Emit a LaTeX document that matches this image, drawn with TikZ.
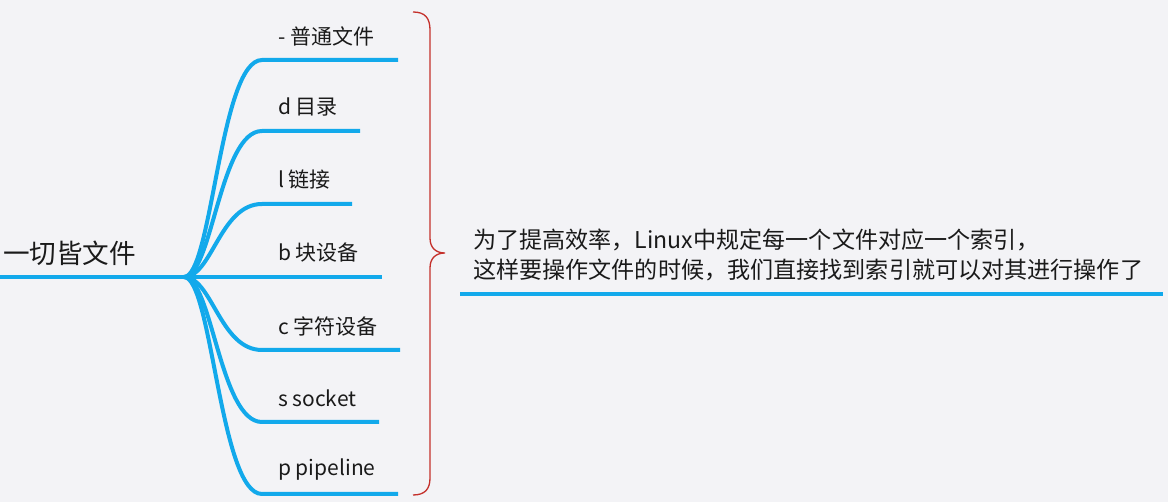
\documentclass[tikz,border=0pt]{standalone}
\usepackage{fontspec}
\setmainfont{Noto Sans CJK SC}

\begin{document}
\begin{tikzpicture}[x=1pt, y=-1pt]

  % --- Farben ---
  \definecolor{hgrund}{HTML}{F3F3F6} % Hintergrund
  \definecolor{astblau}{HTML}{12A9EB} % Blau  – Äste
  \definecolor{klammerrot}{HTML}{C4302B} % Rot – Klammer
  \definecolor{schrift}{HTML}{1A1A1A} % Text

  % --- Stile ---
  \tikzset{
    ast/.style={draw=astblau, line width=4pt, line cap=butt},
    blatt/.style={text=schrift, inner sep=0pt, anchor=west, font=\fontsize{21}{25}\selectfont},
  }

  % --- Hintergrund ---
  \fill[hgrund] (0,0) rectangle (1168,502);
  \useasboundingbox (0,0) rectangle (1168,502);

  % --- Wurzel ---
  \coordinate (links) at (0,277);
  \coordinate (hub) at (184,277);
  \node[blatt, font=\fontsize{26.6}{30}\selectfont] (wurzel) at (3,253) {一切皆文件};
  \draw[ast] (links) -- (hub);

  % --- Hilfsmakro: \zweig{Name}{y}{Ende x}{Text} ---
  \newcommand{\zweig}[4]{%
    \coordinate (#1-a) at (262,#2);
    \coordinate (#1-b) at (#3,#2);
    \draw[ast] (hub) .. controls (212,277) and (220,#2) .. (#1-a) -- (#1-b);
    \node[blatt] (#1) at (278,#2-24) {#4};
  }

  % --- Äste (von oben nach unten) ---
  \zweig{normal}{60}{398}{- 普通文件}
  \zweig{verz}{131}{360}{d 目录}
  \zweig{link}{204}{352}{l 链接}
  \zweig{block}{277}{382}{b 块设备}
  \zweig{zeichen}{350}{400}{c 字符设备}
  \zweig{sock}{422}{379}{s socket}
  \zweig{pipe}{494}{398}{p pipeline}

  % --- Klammer (manuell) ---
  \draw[klammerrot, line width=1.3pt]
    (413,12) .. controls (425,12) and (430,18) .. (430,30)
    -- (430,238) .. controls (430,248) and (436,253) .. (445,253)
    .. controls (436,253) and (430,258) .. (430,268)
    -- (430,478) .. controls (430,489) and (425,495) .. (413,495);

  % --- Erklärung ---
  \node[blatt, font=\fontsize{23.1}{30}\selectfont, align=left] (erkl) at (473,255)
    {为了提高效率，Linux中规定每一个文件对应一个索引，\\这样要操作文件的时候，我们直接找到索引就可以对其进行操作了};
  \coordinate (erkl-a) at (460,294);
  \coordinate (erkl-b) at (1163,294);
  \draw[ast] (erkl-a) -- (erkl-b);

\end{tikzpicture}
\end{document}
